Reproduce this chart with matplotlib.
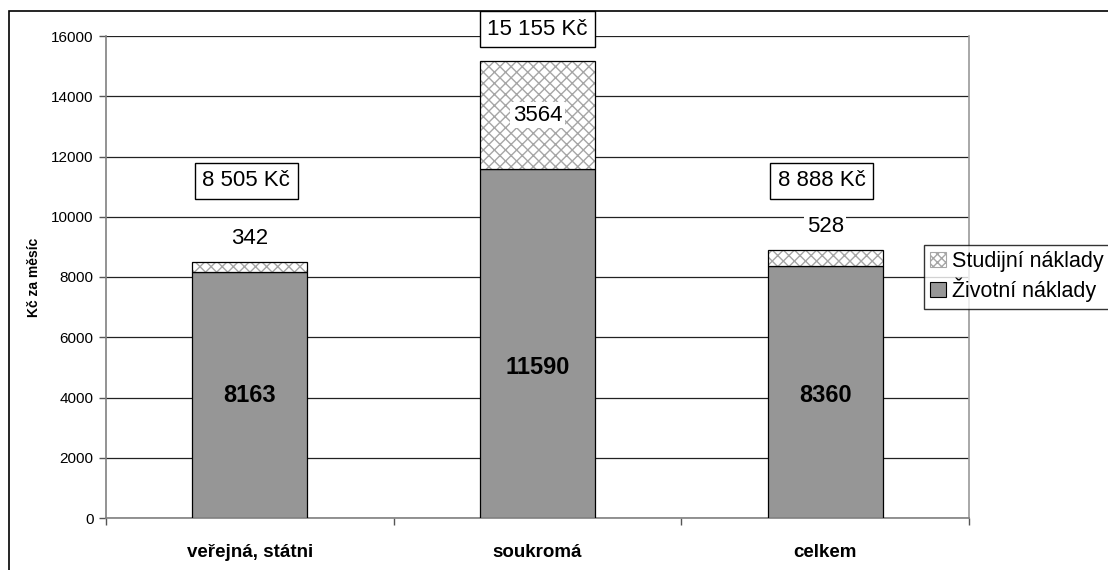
import matplotlib
matplotlib.use("Agg")
import matplotlib.pyplot as plt
from matplotlib.patches import Rectangle, Patch
import numpy as np

categories = ["veřejná, státni", "soukromá", "celkem"]
zivotni = [8163, 11590, 8360]
studijni = [342, 3564, 528]
total_labels = ["8 505 Kč", "15 155 Kč", "8 888 Kč"]
yticks = [0, 2000, 4000, 6000, 8000, 10000, 12000, 14000, 16000]

plt.rcParams['font.family'] = ['Liberation Sans', 'DejaVu Sans']
plt.rcParams['hatch.linewidth'] = 1.0

W, H = 1108, 570
fig = plt.figure(figsize=(W / 100, H / 100), dpi=100)
ax = fig.add_axes([106 / W, 1 - 518 / H, (969 - 106) / W, (518 - 36) / H])

x = np.arange(len(categories))
bw = 0.40
gray = "#969696"
hatch_gray = "#a6a6a6"

ax.bar(x, zivotni, bw, color=gray, edgecolor="black", linewidth=0.9, zorder=3)
ax.bar(x, studijni, bw, bottom=zivotni, color="white", edgecolor=hatch_gray,
       hatch="xxx", linewidth=0, zorder=3)
ax.bar(x, studijni, bw, bottom=zivotni, fill=False, edgecolor="black",
       linewidth=0.9, zorder=4)

ax.set_xlim(-0.5, 2.5)
ax.set_ylim(0, 16000)
ax.set_yticks(yticks)
ax.set_yticklabels([str(v) for v in yticks], fontsize=11)
ax.yaxis.grid(True, color="#222222", linewidth=0.9)
ax.set_axisbelow(True)

ax.set_xticks(x)
ax.set_xticklabels(categories, fontsize=13.5, fontweight="bold")
ax.tick_params(axis="x", which="major", length=0, pad=19)
ax.set_xticks([-0.5, 0.5, 1.5, 2.5], minor=True)
ax.tick_params(axis="x", which="minor", length=5, width=1, color="#555555", direction="out")
ax.tick_params(axis="y", length=5, width=1, color="#555555", pad=4)

ax.spines["top"].set_visible(False)
ax.spines["left"].set_color("#808080")
ax.spines["left"].set_linewidth(1.2)
ax.spines["bottom"].set_color("#808080")
ax.spines["bottom"].set_linewidth(1.2)
ax.spines["right"].set_color("#999999")
ax.spines["right"].set_linewidth(1.2)

ax.set_ylabel("Kč za měsíc", fontsize=10, fontweight="bold")
ax.yaxis.set_label_coords(-0.075, (518 - 277) / (518 - 36))

# inner (bold) labels of Životní náklady
inner_y = [4080, 4980, 4080]
for i, v in enumerate(zivotni):
    ax.text(x[i], inner_y[i], str(v), ha="center", va="center", fontsize=17,
            fontweight="bold", zorder=6)

# Studijní labels
for i, v in enumerate(studijni):
    top = zivotni[i] + studijni[i]
    if v > 2000:
        yy = zivotni[i] + v / 2
    else:
        yy = top + 780
    ax.text(x[i], yy, str(v), ha="center", va="center", fontsize=16, zorder=6,
            bbox=dict(boxstyle="square,pad=0.12", facecolor="white", edgecolor="none"))

# total boxes
tot_y = [11190, 16230, 11190]
for i, t in enumerate(total_labels):
    ax.text(x[i] - 0.012 if i != 1 else x[i], tot_y[i], t, ha="center", va="center",
            fontsize=16, zorder=7, clip_on=False,
            bbox=dict(boxstyle="square,pad=0.34", facecolor="white",
                      edgecolor="black", linewidth=1))

handles = [Patch(facecolor="white", edgecolor=hatch_gray, hatch="xxxx", linewidth=0.8),
           Patch(facecolor=gray, edgecolor="black", linewidth=0.8)]
leg = fig.legend(handles, ["Studijní náklady", "Životní náklady"],
                 loc="upper left", bbox_to_anchor=(924 / W, 1 - 245 / H),
                 fontsize=15.5, frameon=True, fancybox=False, borderpad=0.3,
                 handlelength=0.7, handleheight=0.7, handletextpad=0.3,
                 labelspacing=0.25, borderaxespad=0)
leg.get_frame().set_edgecolor("black")
leg.get_frame().set_linewidth(1)

# outer frame
fig.patches.append(Rectangle((9 / W, -0.05), 1.2, 1 - 11 / H + 0.05,
                             transform=fig.transFigure, fill=False,
                             edgecolor="black", linewidth=1.2, zorder=0))

fig.savefig("out.png", dpi=100)
